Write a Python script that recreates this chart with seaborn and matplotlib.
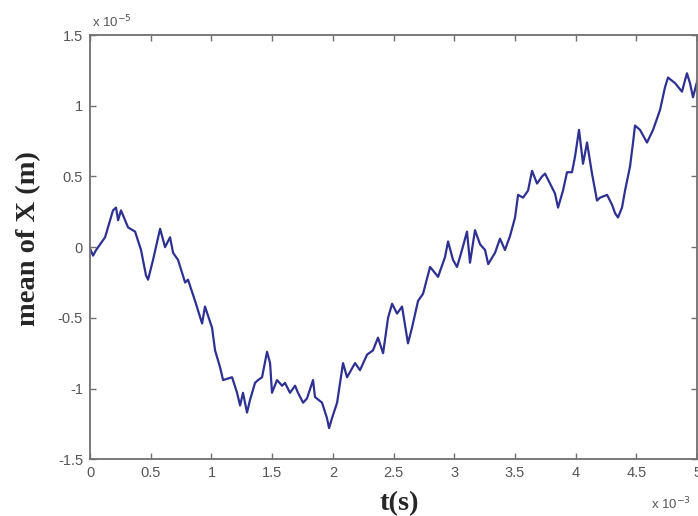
import numpy as np
import pandas as pd
import matplotlib
matplotlib.use("Agg")
import matplotlib.pyplot as plt
from matplotlib.ticker import FuncFormatter
import seaborn as sns

# time in units of 1e-3 s
t_ms = [
    0.000, 0.025, 0.050, 0.091, 0.124, 0.189, 0.214, 0.231, 0.255, 0.313,
    0.371, 0.420, 0.461, 0.478, 0.519, 0.577, 0.618, 0.659, 0.684, 0.725,
    0.783, 0.807, 0.865, 0.923, 0.947, 1.005, 1.030, 1.071, 1.096,
    1.170, 1.211, 1.236, 1.260, 1.293, 1.318, 1.359, 1.384, 1.417, 1.458,
    1.483, 1.499, 1.540, 1.582, 1.606, 1.647, 1.689, 1.713, 1.755, 1.787,
    1.837, 1.853, 1.911, 1.952, 1.969, 1.993, 2.035, 2.084, 2.117,
    2.183, 2.224, 2.282, 2.331, 2.372, 2.414, 2.455, 2.488, 2.529, 2.570,
    2.619, 2.652, 2.702, 2.743, 2.801, 2.867, 2.924, 2.949, 2.990, 3.023,
    3.064, 3.105, 3.130, 3.171, 3.213,
    3.254, 3.280, 3.336, 3.377, 3.418, 3.460, 3.501, 3.526, 3.567, 3.608,
    3.641, 3.682, 3.723, 3.748, 3.789, 3.830, 3.855,
    3.896, 3.929, 3.970, 3.995, 4.028, 4.061, 4.094, 4.135, 4.176,
    4.201, 4.259, 4.300, 4.325, 4.349, 4.382, 4.407, 4.448, 4.473, 4.489,
    4.530, 4.588, 4.638, 4.695, 4.736, 4.761, 4.819, 4.876, 4.917, 4.942,
    4.967, 5.000,
]

# mean displacement in units of 1e-5 m
mean_x = [
    -0.01, -0.06, -0.02, 0.03, 0.07, 0.26, 0.28, 0.19, 0.26, 0.14,
    0.11, -0.02, -0.20, -0.23, -0.09, 0.13, 0.00, 0.07, -0.04, -0.09,
    -0.25, -0.23, -0.38, -0.54, -0.42, -0.57, -0.73, -0.85, -0.94,
    -0.92, -1.03, -1.12, -1.03, -1.17, -1.08, -0.96, -0.94, -0.92, -0.74,
    -0.82, -1.03, -0.94, -0.98, -0.96, -1.03, -0.98, -1.03, -1.10, -1.07,
    -0.94, -1.06, -1.10, -1.21, -1.28, -1.21, -1.10, -0.82, -0.92,
    -0.82, -0.87, -0.76, -0.73, -0.64, -0.75, -0.50, -0.40, -0.47, -0.42,
    -0.68, -0.57, -0.38, -0.33, -0.14, -0.21, -0.07, 0.04, -0.09, -0.14,
    -0.02, 0.11, -0.11, 0.12, 0.02,
    -0.02, -0.12, -0.04, 0.06, -0.02, 0.08, 0.21, 0.37, 0.35, 0.40,
    0.54, 0.45, 0.50, 0.52, 0.45, 0.38, 0.28,
    0.40, 0.53, 0.53, 0.64, 0.83, 0.59, 0.74, 0.52, 0.33,
    0.35, 0.37, 0.30, 0.24, 0.21, 0.28, 0.40, 0.57, 0.74, 0.86,
    0.83, 0.74, 0.83, 0.97, 1.13, 1.20, 1.16, 1.10, 1.23, 1.16,
    1.06, 1.17,
]

x_ticks = [0, 0.5, 1, 1.5, 2, 2.5, 3, 3.5, 4, 4.5, 5]
y_ticks = [-1.5, -1, -0.5, 0, 0.5, 1, 1.5]

df = pd.DataFrame({
    "t": np.array(t_ms) * 1e-3,
    "mean": np.array(mean_x) * 1e-5,
})

sns.set_theme(style="white")
plt.rcParams["font.family"] = ["Liberation Sans", "DejaVu Sans"]

fig = plt.figure(figsize=(6.98, 5.16), dpi=100)
ax = fig.add_axes([0.129, 0.110, 0.8696, 0.822])

sns.lineplot(data=df, x="t", y="mean", ax=ax, color="#2E3192",
             linewidth=1.6, estimator=None, sort=False)

ax.set_xlim(0, 5e-3)
ax.set_ylim(-1.5e-5, 1.5e-5)
ax.set_xticks(np.array(x_ticks) * 1e-3)
ax.set_yticks(np.array(y_ticks) * 1e-5)
ax.xaxis.set_major_formatter(FuncFormatter(lambda v, p: f"{v * 1e3:g}"))
ax.yaxis.set_major_formatter(FuncFormatter(lambda v, p: f"{v * 1e5:g}"))

spine_col = "#707070"
for s in ax.spines.values():
    s.set_visible(True)
    s.set_color(spine_col)
    s.set_linewidth(1.3)

ax.tick_params(axis="both", direction="in", length=4, width=1.0,
               color=spine_col, labelcolor="#555555", labelsize=10.5,
               top=True, right=True, bottom=True, left=True, pad=5)

# scale multipliers
ax.text(0.003, 1.012, r"x 10$^{-5}$", transform=ax.transAxes,
        color="#555555", fontsize=9.5, ha="left", va="bottom")
ax.text(0.925, -0.085, r"x 10$^{-3}$", transform=ax.transAxes,
        color="#555555", fontsize=9.5, ha="left", va="top")

label_font = dict(family=["Liberation Serif", "DejaVu Serif"],
                  weight="bold", size=20.5)
ax.set_xlabel("t(s)", **label_font)
ax.set_ylabel("mean of X (m)", **label_font)
ax.xaxis.set_label_coords(0.51, -0.075)
ax.yaxis.set_label_coords(-0.08, 0.52)

fig.savefig("out.png", dpi=100)
